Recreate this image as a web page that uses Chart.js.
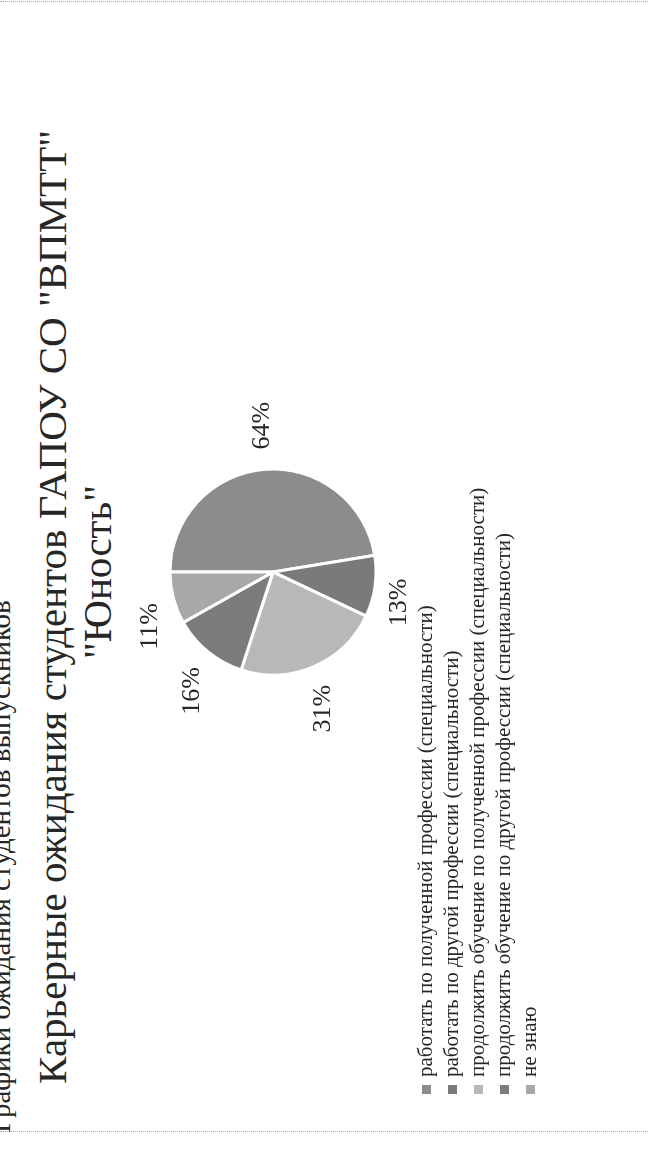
<!DOCTYPE html>
<html>
<head>
<meta charset="utf-8">
<script src="https://cdn.jsdelivr.net/npm/chart.js@4.4.1/dist/chart.umd.min.js"></script>
<style>
html, body { margin: 0; padding: 0; background: #fff; overflow: hidden; }
/* the scan is turned a quarter to the left, so the chart is laid out landscape and rotated */
#page {
    position: absolute; left: 0; top: 0;
    width: 1152px; height: 648px;
    transform-origin: 0 0;
    transform: translate(0, 1152px) rotate(-90deg);
    font-family: "Liberation Serif", "DejaVu Serif", serif;
    color: #262626;
}
#chart { position: absolute; left: 0; top: 0; }
.heading { position: absolute; left: 19px; top: -16px; font-size: 29px; white-space: nowrap; }
.title { position: absolute; text-align: center; font-size: 41px; line-height: 45px; white-space: nowrap; }
.legend { position: absolute; left: 58px; top: 412px; font-size: 21px; }
.legend div { height: 26px; line-height: 26px; white-space: nowrap; }
.legend span { display: inline-block; width: 9px; height: 9px; margin-right: 8px; vertical-align: 1px; }
.edge { position: absolute; top: 0; height: 648px; border-left: 1px dotted #aaa; }
</style>
</head>
<body>
<div id="page">
    <div class="edge" style="left:20px"></div>
    <div class="edge" style="left:1150px"></div>
    <div class="heading">Графики ожидания студентов выпускников</div>
    <div class="title" style="left:0; width:1090px; top:30px">Карьерные ожидания студентов ГАПОУ СО "ВПМТТ"</div>
    <div class="title" style="left:80px; width:1000px; top:75px">"Юность"</div>
    <canvas id="chart" width="1152" height="648"></canvas>
    <div class="legend" id="legend"></div>
</div>
<script>
const categories = [
    'работать по полученной профессии (специальности)',
    'работать по другой профессии (специальности)',
    'продолжить обучение по полученной профессии (специальности)',
    'продолжить обучение по другой профессии (специальности)',
    'не знаю'
];
const values = [64, 13, 31, 16, 11];
const sliceColors = ['#8c8c8c', '#7a7a7a', '#b8b8b8', '#7c7c7c', '#a8a8a8'];

// legend, one line per answer
let legendBox = document.getElementById('legend');
categories.forEach(function (name, i) {
    let row = document.createElement('div');
    row.innerHTML = '<span style="background:' + sliceColors[i] + '"></span>' + name;
    legendBox.appendChild(row);
});

function clamp(v) {
    return Math.max(-1, Math.min(1, v));
}

// percent labels just outside each slice, roughly like excel's "outside end"
const outsideLabels = {
    id: 'outsideLabels',
    afterDatasetsDraw(chart) {
        let ctx = chart.ctx;
        let meta = chart.getDatasetMeta(0);
        ctx.save();
        ctx.font = '26px "Liberation Serif"';
        ctx.fillStyle = '#262626';
        ctx.textAlign = 'center';
        ctx.textBaseline = 'middle';
        meta.data.forEach(function (arc, i) {
            let p = arc.getProps(['x', 'y', 'startAngle', 'endAngle', 'outerRadius'], true);
            let mid = (p.startAngle + p.endAngle) / 2;
            let text = values[i] + '%';
            let w = ctx.measureText(text).width;
            let r = p.outerRadius + 20;
            let x = p.x + Math.cos(mid) * r + w / 2 * clamp(4 * Math.cos(mid));
            let y = p.y + Math.sin(mid) * (r + 4);
            ctx.fillText(text, x, y);
        });
        ctx.restore();
    }
};

let chartCanvas = document.getElementById('chart').getContext('2d');
let chart = new Chart(chartCanvas, {
    type: 'pie',
    data: {
        labels: categories,
        datasets: [{
            data: values,
            backgroundColor: sliceColors,
            borderColor: '#ffffff',
            borderWidth: 3,
            radius: 103
        }]
    },
    options: {
        responsive: false,
        animation: false,
        devicePixelRatio: 1,
        layout: { padding: { left: 430, right: 422, top: 123, bottom: 225 } },
        plugins: {
            legend: { display: false },
            tooltip: { enabled: false }
        }
    },
    plugins: [outsideLabels]
});
</script>
</body>
</html>
